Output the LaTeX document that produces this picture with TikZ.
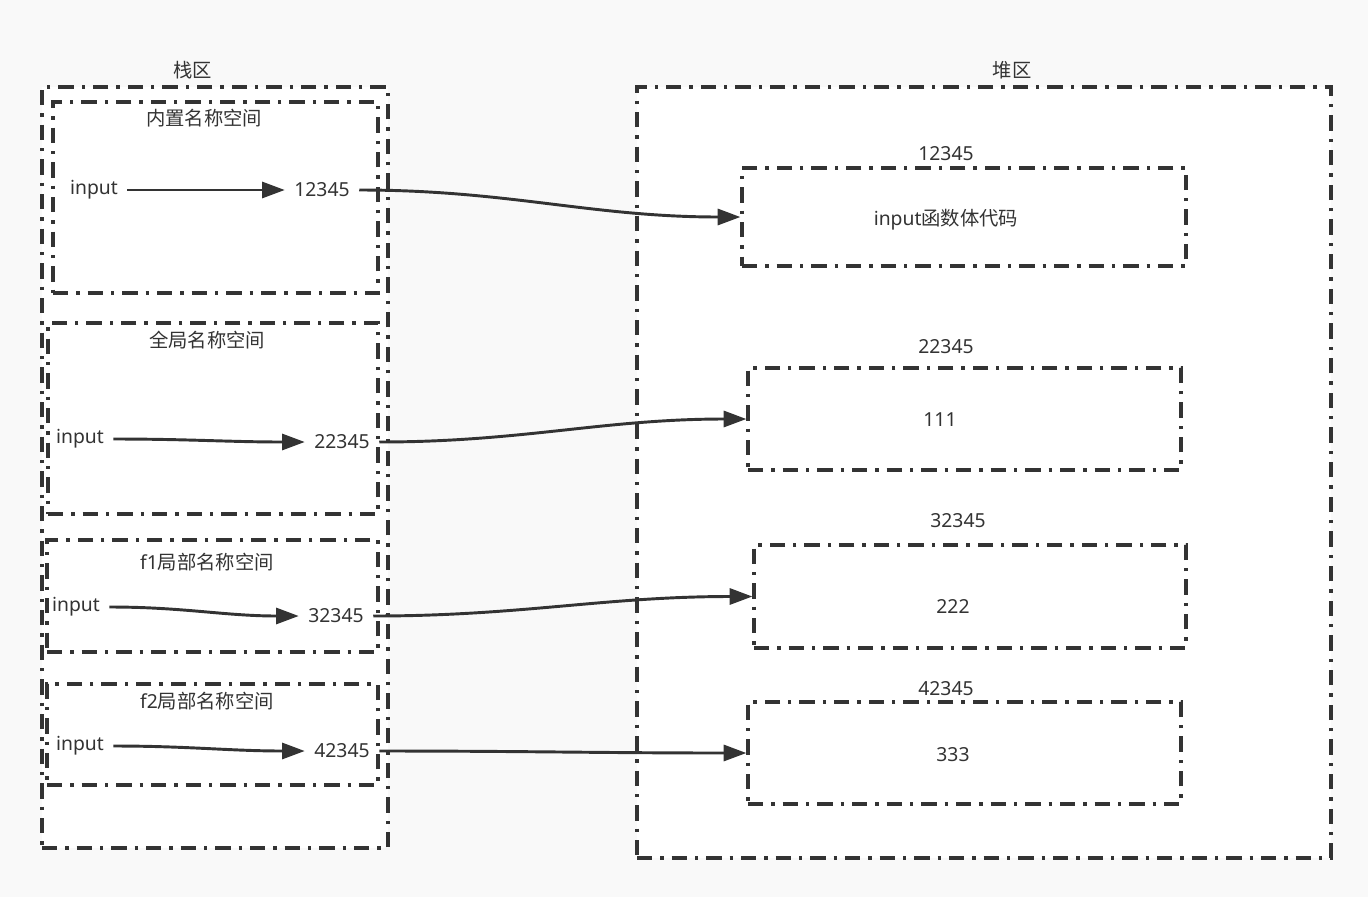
\documentclass[tikz,border=0pt]{standalone}
\usepackage{fontspec}
\setmainfont{Noto Sans}
\newfontfamily\cjk{Noto Sans CJK SC}
\usetikzlibrary{arrows.meta,positioning}
\definecolor{inkgray}{RGB}{51,51,51}
\definecolor{pagegray}{RGB}{249,249,249}

\begin{document}
\begin{tikzpicture}[
    x=0.75pt, y=-0.75pt,
    every node/.style={font=\fontsize{14.5}{17}\selectfont, text=inkgray},
    area/.style={rectangle, draw=inkgray, fill=white, line width=2.4pt, dash pattern=on 11.5pt off 6pt on 2.5pt off 6pt, inner sep=0pt},
    word/.style={inner xsep=7pt, inner ysep=2pt},
    ptr/.style={-{Triangle[length=17pt,width=12pt]}, line width=2.2pt, draw=inkgray}
]
    \fill[pagegray] (0,0) rectangle (1368,897);
    \useasboundingbox (0,0) rectangle (1368,897);

    % stack side
    \node[area, minimum width=259.5pt, minimum height=570.75pt] (stack) at (215,467.5) {};
    \node[above=1pt of stack.north, xshift=-17pt] (stacklbl) {\cjk 栈区};
    \node[area, minimum width=243.75pt, minimum height=143.25pt] (ns1) at (215.5,197.5) {};
    \node[area, minimum width=247.5pt, minimum height=143.25pt] (ns2) at (213,418.5) {};
    \node[area, minimum width=248.25pt, minimum height=84pt] (ns3) at (212.5,596) {};
    \node[area, minimum width=248.25pt, minimum height=75.75pt] (ns4) at (212.5,734.5) {};
    \node (ns1lbl) at (204,118) {\cjk 内置名称空间};
    \node (ns2lbl) at (207,340) {\cjk 全局名称空间};
    \node (ns3lbl) at (207,562) {f1{\cjk 局部名称空间}};
    \node (ns4lbl) at (207,701) {f2{\cjk 局部名称空间}};

    % heap side
    \node[area, minimum width=520.5pt, minimum height=578.25pt] (heap) at (984,472.5) {};
    \node[above=1pt of heap.north, xshift=21pt] (heaplbl) {\cjk 堆区};
    \node[area, minimum width=333pt, minimum height=73.5pt] (h1) at (964,217) {};
    \node[area, minimum width=324.75pt, minimum height=76.5pt] (h2) at (964.5,419) {};
    \node[area, minimum width=324pt, minimum height=77.25pt] (h3) at (970,596.5) {};
    \node[area, minimum width=324.75pt, minimum height=76.5pt] (h4) at (964.5,753) {};
    \node (h1lbl) at (946,154) {12345};
    \node (h2lbl) at (946,347) {22345};
    \node (h3lbl) at (958,521) {32345};
    \node (h4lbl) at (946,689) {42345};
    \node (h1val) at (946,220) {input{\cjk 函数体代码}};
    \node (h2val) at (940,420) {111};
    \node (h3val) at (953,606) {222};
    \node (h4val) at (953,755) {333};

    % names and addresses
    \node[word] (in1) at (94,190) {input};
    \node[word] (a1) at (322,190) {12345};
    \node[word] (in2) at (80,439) {input};
    \node[word] (a2) at (342,442) {22345};
    \node[word] (in3) at (76,607) {input};
    \node[word] (a3) at (336,616) {32345};
    \node[word] (in4) at (80,746) {input};
    \node[word] (a4) at (342,751) {42345};

    \draw[ptr] (in1) -- (a1);
    \draw[ptr] (in2.east) to[out=0, in=180] (a2.west);
    \draw[ptr] (in3.east) to[out=0, in=180] (a3.west);
    \draw[ptr] (in4.east) to[out=0, in=180] (a4.west);

    \draw[ptr] (a1.east) to[out=0, in=180] (h1.west);
    \draw[ptr] (a2.east) to[out=0, in=180] (h2.west);
    \draw[ptr] (a3.east) to[out=0, in=180] (h3.west);
    \draw[ptr] (a4.east) to[out=0, in=180] (h4.west);
\end{tikzpicture}
\end{document}
